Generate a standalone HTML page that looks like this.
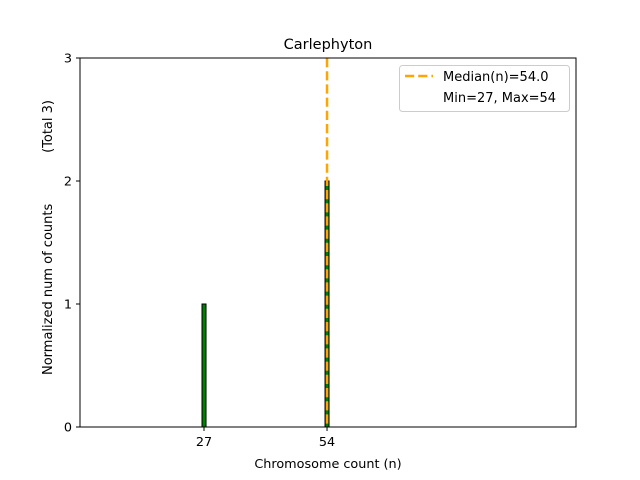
<!DOCTYPE html>
<html><head><meta charset="utf-8"><style>
body{margin:0;background:#fff}
svg{display:block;font-family:"DejaVu Sans","Liberation Sans",sans-serif}
</style></head><body>
<svg id="c" width="640" height="480" viewBox="0 0 640 480">
<rect width="640" height="480" fill="#fff"/>
<g id="bars"></g>
<g id="median"></g>
<rect x="80" y="58" width="496" height="369" fill="none" stroke="#000" stroke-width="1"/>
<g id="ticks"></g>
<text x="328" y="49" text-anchor="middle" font-size="14.5">Carlephyton</text>
<text x="328" y="468" text-anchor="middle" font-size="12.8">Chromosome count (n)</text>
<text transform="translate(52,375) rotate(-90)" text-anchor="start" font-size="13">Normalized num of counts</text>
<text transform="translate(52,100) rotate(-90)" text-anchor="end" font-size="13">(Total 3)</text>
<g>
<rect x="399.5" y="65.5" width="170" height="46" rx="3" fill="#fff" fill-opacity="0.8" stroke="#ccc"/>
<line x1="405" y1="76" x2="433" y2="76" stroke="#ffa500" stroke-width="2.5" stroke-dasharray="9.2,4"/>
<text x="443" y="81" font-size="13">Median(n)=54.0</text>
<text x="443" y="102" font-size="13">Min=27, Max=54</text>
</g>
</svg>
<script>
const categories=[27,54];
const counts=[1,2];
const medianValue=54.0;
const xTickLabels=[27,54];
const yTickLabels=[0,1,2,3];
const NS="http://www.w3.org/2000/svg";
const x=v=>81+(v)*4.556;
const y=v=>427-v*123;
function mk(t,a,p){const e=document.createElementNS(NS,t);for(const k in a)e.setAttribute(k,a[k]);p.appendChild(e);return e;}
const bars=document.getElementById('bars');
categories.forEach((c,i)=>{
 const r=mk('rect',{x:x(c)-2,y:y(counts[i]),width:4,height:y(0)-y(counts[i]),fill:'#008000',stroke:'#000','stroke-width':1},bars);
 
 
});
const med=document.getElementById('median');
const ml=mk('line',{x1:x(medianValue),x2:x(medianValue),y1:58,y2:427,stroke:'#ffa500','stroke-width':2.5,'stroke-dasharray':'9.2,4'},med);


const tk=document.getElementById('ticks');
xTickLabels.forEach(v=>{
 mk('line',{x1:x(v),x2:x(v),y1:427,y2:431,stroke:'#000'},tk);
 const t=mk('text',{x:x(v),y:446,'text-anchor':'middle','font-size':12.8},tk);
 t.textContent=v;
 
 
});
yTickLabels.forEach(v=>{
 mk('line',{x1:76,x2:80,y1:y(v),y2:y(v),stroke:'#000'},tk);
 const t=mk('text',{x:72,y:y(v)+4.5,'text-anchor':'end','font-size':12.8},tk);
 t.textContent=v;
 
 
});
</script>
</body></html>
